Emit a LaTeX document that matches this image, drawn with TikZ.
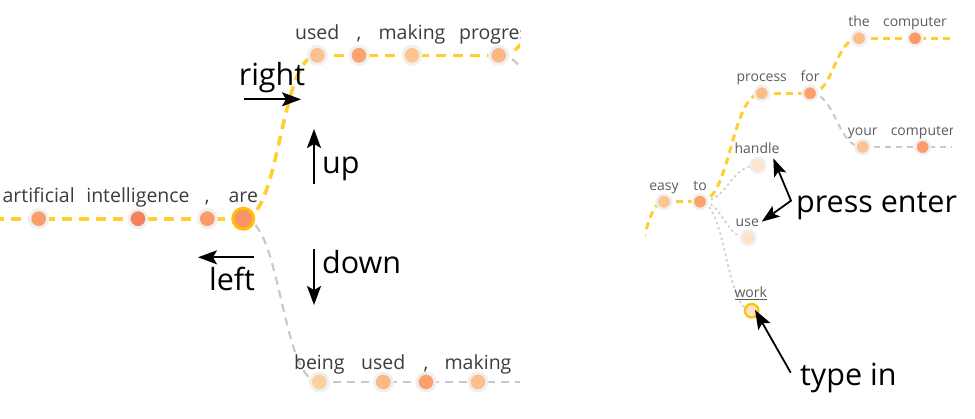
\documentclass[tikz,border=0pt]{standalone}
\usepackage{fontspec}
\setmainfont{Open Sans}
\usetikzlibrary{arrows.meta,calc}
\pgfdeclarelayer{bg}
\pgfsetlayers{bg,main}
\definecolor{yel}{HTML}{FFCF30}
\definecolor{ringc}{HTML}{FFC107}
\definecolor{halo}{HTML}{F0F0F0}
\definecolor{gline}{HTML}{C9C9C9}
\definecolor{dline}{HTML}{D2D2D2}
\definecolor{lblLc}{HTML}{3C3C3C}
\definecolor{lblRc}{HTML}{5C5C5C}
% dot colours
\definecolor{cArt}{HTML}{FC9E6C}
\definecolor{cInt}{HTML}{F5825A}
\definecolor{cCmA}{HTML}{FB9A6A}
\definecolor{cAre}{HTML}{F8936A}
\definecolor{cUsedA}{HTML}{FDC190}
\definecolor{cCmB}{HTML}{FCA36F}
\definecolor{cMakA}{HTML}{FDC690}
\definecolor{cProg}{HTML}{FDB686}
\definecolor{cBeing}{HTML}{FDD19F}
\definecolor{cUsedB}{HTML}{FDB985}
\definecolor{cCmC}{HTML}{FCA06E}
\definecolor{cMakB}{HTML}{FDC08D}
\definecolor{cEasy}{HTML}{FDC594}
\definecolor{cTo}{HTML}{FCA06D}
\definecolor{cProc}{HTML}{FDBD88}
\definecolor{cFor}{HTML}{FCA06D}
\definecolor{cThe}{HTML}{FDBE8A}
\definecolor{cCompA}{HTML}{FC9965}
\definecolor{cYour}{HTML}{FDC492}
\definecolor{cCompB}{HTML}{FC9B68}
\definecolor{cHandle}{HTML}{FDE6CB}
\definecolor{cUse}{HTML}{FDE3C6}
\definecolor{cWork}{HTML}{FDE2C4}
\tikzset{
 dotL/.style={circle,inner sep=0pt,minimum size=18pt,draw=halo,line width=3pt,fill=#1},
 dotR/.style={circle,inner sep=0pt,minimum size=14.5pt,draw=halo,line width=2.5pt,fill=#1},
 lblL/.style={anchor=base,inner sep=0pt,text=lblLc,font=\fontsize{19.5}{22}\selectfont},
 lblR/.style={anchor=base,inner sep=0pt,text=lblRc,font=\fontsize{14}{16}\selectfont},
 yelL/.style={draw=yel,line width=3.6pt,dash pattern=on 10pt off 7pt},
 grayL/.style={draw=gline,line width=2.2pt,dash pattern=on 8pt off 6pt},
 yelR/.style={draw=yel,line width=3pt,dash pattern=on 7pt off 5pt},
 grayR/.style={draw=gline,line width=2pt,dash pattern=on 6pt off 5pt},
 dotline/.style={draw=dline,line width=1.8pt,dash pattern=on 2.5pt off 3pt},
 link/.style={to path={let \p1=(\tikztostart), \p2=(\tikztotarget), \p3=($(\p1)!0.5!(\p2)$) in .. controls (\x3,\y1) and (\x3,\y2) .. (\tikztotarget)}},
 annot/.style={line width=1.8pt,-{Stealth[length=19pt,width=14pt,inset=4pt]}},
 annotb/.style={line width=1.8pt,{Stealth[length=18pt,width=13pt,inset=4pt]}-{Stealth[length=18pt,width=13pt,inset=4pt]}},
 big/.style={inner sep=0pt,font=\fontsize{30.5}{32}\selectfont}
}
\begin{document}
\begin{tikzpicture}[x=1pt,y=-1pt]
\useasboundingbox (0,0) rectangle (975,418);
% ---------------- left panel ----------------
\coordinate (pL) at (-40,218.7);
\coordinate (nUR) at (580,-30);
\coordinate (nDR) at (580,150);
\coordinate (nB) at (570,382);
\begin{scope}
\clip (0,0) rectangle (520,418);
\node[dotL=cArt] (art) at (38.7,218.7) {};
\node[dotL=cInt] (int) at (138,218.7) {};
\node[dotL=cCmA] (cmA) at (207.3,218.7) {};
\node[dotL=cAre,draw=ringc,minimum size=21pt] (are) at (243.3,218.7) {};
\node[dotL=cUsedA] (usedA) at (317.3,55.3) {};
\node[dotL=cCmB] (cmB) at (359,55.3) {};
\node[dotL=cMakA] (makA) at (412,55.3) {};
\node[dotL=cProg] (prog) at (498.7,55.3) {};
\node[dotL=cBeing] (being) at (319.3,382) {};
\node[dotL=cUsedB] (usedB) at (383.3,382) {};
\node[dotL=cCmC] (cmC) at (426,382) {};
\node[dotL=cMakB] (makB) at (478,382) {};
\node[lblL] (tArt) at ($(art)+(0,-16)$) {artificial};
\node[lblL] (tInt) at ($(int)+(0,-16)$) {intelligence};
\node[lblL] (tCmA) at ($(cmA)+(0,-16)$) {,};
\node[lblL] (tAre) at ($(are)+(0,-16)$) {are};
\node[lblL] (tUsedA) at ($(usedA)+(0,-15.5)$) {used};
\node[lblL] (tCmB) at ($(cmB)+(0,-15.5)$) {,};
\node[lblL] (tMakA) at ($(makA)+(0,-15.5)$) {making};
\node[lblL] (tProg) at ($(prog)+(0,-15.5)$) {progress};
\node[lblL] (tBeing) at ($(being)+(0,-13)$) {being};
\node[lblL] (tUsedB) at ($(usedB)+(0,-13)$) {used};
\node[lblL] (tCmC) at ($(cmC)+(0,-13)$) {,};
\node[lblL] (tMakB) at ($(makB)+(0,-13)$) {making};
\end{scope}
\begin{pgfonlayer}{bg}
\begin{scope}
\clip (0,0) rectangle (520,418);
\draw[yelL] (pL) -- (art.center) -- (int.center) -- (cmA.center) -- (are.center);
\draw[yelL] (are.center) to[link] (usedA.center);
\draw[yelL] (usedA.center) -- (cmB.center) -- (makA.center) -- (prog.center);
\draw[yelL] (prog.center) to[link] (nUR);
\draw[grayL] (prog.center) to[link] (nDR);
\draw[grayL] (are.center) to[link] (being.center);
\draw[grayL] (being.center) -- (usedB.center) -- (cmC.center) -- (makB.center) -- (nB);
\end{scope}
\end{pgfonlayer}
% annotations left
\coordinate (rA) at (244,99.3);
\coordinate (rB) at (301,99.3);
\draw[annot] (rA) -- (rB);
\node[big,anchor=base] (wRight) at (272,85) {right};
\coordinate (uA) at (314,184);
\coordinate (uB) at (314,129);
\draw[annot] (uA) -- (uB);
\node[big,anchor=base west] (wUp) at (322,173) {up};
\coordinate (dA) at (314,249);
\coordinate (dB) at (314,305);
\draw[annot] (dA) -- (dB);
\node[big,anchor=base west] (wDown) at (322,273) {down};
\coordinate (lA) at (254,257.3);
\coordinate (lB) at (198,257.3);
\draw[annot] (lA) -- (lB);
\node[big,anchor=base] (wLeft) at (232,290.7) {left};
% ---------------- right panel ----------------
\coordinate (pre) at (628,258);
\coordinate (postA) at (995,38.3);
\coordinate (postB) at (995,147);
\begin{scope}
\clip (645,0) rectangle (952,418);
\node[dotR=cEasy] (easy) at (664,201.7) {};
\node[dotR=cTo] (to) at (700,201.7) {};
\node[dotR=cProc] (proc) at (761.7,93.3) {};
\node[dotR=cFor] (for) at (810,93.3) {};
\node[dotR=cThe] (the) at (859,38.3) {};
\node[dotR=cCompA] (compA) at (915,38.3) {};
\node[dotR=cYour] (your) at (862.7,147) {};
\node[dotR=cCompB] (compB) at (922.7,147) {};
\node[dotR=cHandle] (handle) at (758,165.3) {};
\node[dotR=cUse] (use) at (748.3,238) {};
\node[dotR=cWork,draw=ringc,line width=2.3pt,minimum size=13.5pt] (work) at (751.7,310.7) {};
\node[lblR] (tEasy) at ($(easy)+(0,-11.5)$) {easy};
\node[lblR] (tTo) at ($(to)+(0,-11.5)$) {to};
\node[lblR] (tProc) at ($(proc)+(0,-11.5)$) {process};
\node[lblR] (tFor) at ($(for)+(0,-11.5)$) {for};
\node[lblR] (tThe) at ($(the)+(0,-11.5)$) {the};
\node[lblR] (tCompA) at ($(compA)+(0,-11.5)$) {computer};
\node[lblR] (tYour) at ($(your)+(0,-11.5)$) {your};
\node[lblR] (tCompB) at ($(compB)+(0,-11.5)$) {computer};
\node[lblR] (tHandle) at ($(handle)+(-1,-11.5)$) {handle};
\node[lblR] (tUse) at ($(use)+(-1,-11.5)$) {use};
\node[lblR] (tWork) at ($(work)+(-1,-13)$) {\underline{work}};
\end{scope}
\begin{pgfonlayer}{bg}
\begin{scope}
\clip (645,0) rectangle (952,418);
\draw[yelR] (pre) to[link] (easy.center);
\draw[yelR] (easy.center) -- (to.center);
\draw[yelR] (to.center) to[link] (proc.center);
\draw[yelR] (proc.center) -- (for.center);
\draw[yelR] (for.center) to[link] (the.center);
\draw[yelR] (the.center) -- (compA.center) -- (postA);
\draw[grayR] (for.center) to[link] (your.center);
\draw[grayR] (your.center) -- (compB.center) -- (postB);
\draw[dotline] (to.center) to[link] (handle.center);
\draw[dotline] (to.center) to[link] (use.center);
\draw[dotline] (to.center) to[link] (work.center);
\end{scope}
\end{pgfonlayer}
% annotations right
\coordinate (peU) at (761.7,221.7);
\coordinate (peM) at (791,200.7);
\coordinate (peH) at (773.3,158.3);
\draw[annotb] (peU) -- (peM) -- (peH);
\node[big,anchor=base west] (wPress) at (796,212) {press enter};
\coordinate (tyA) at (790.7,372.7);
\coordinate (tyB) at (755,310);
\draw[annot] (tyA) -- (tyB);
\node[big,anchor=base west] (wType) at (800,385) {type in};
\end{tikzpicture}
\end{document}
